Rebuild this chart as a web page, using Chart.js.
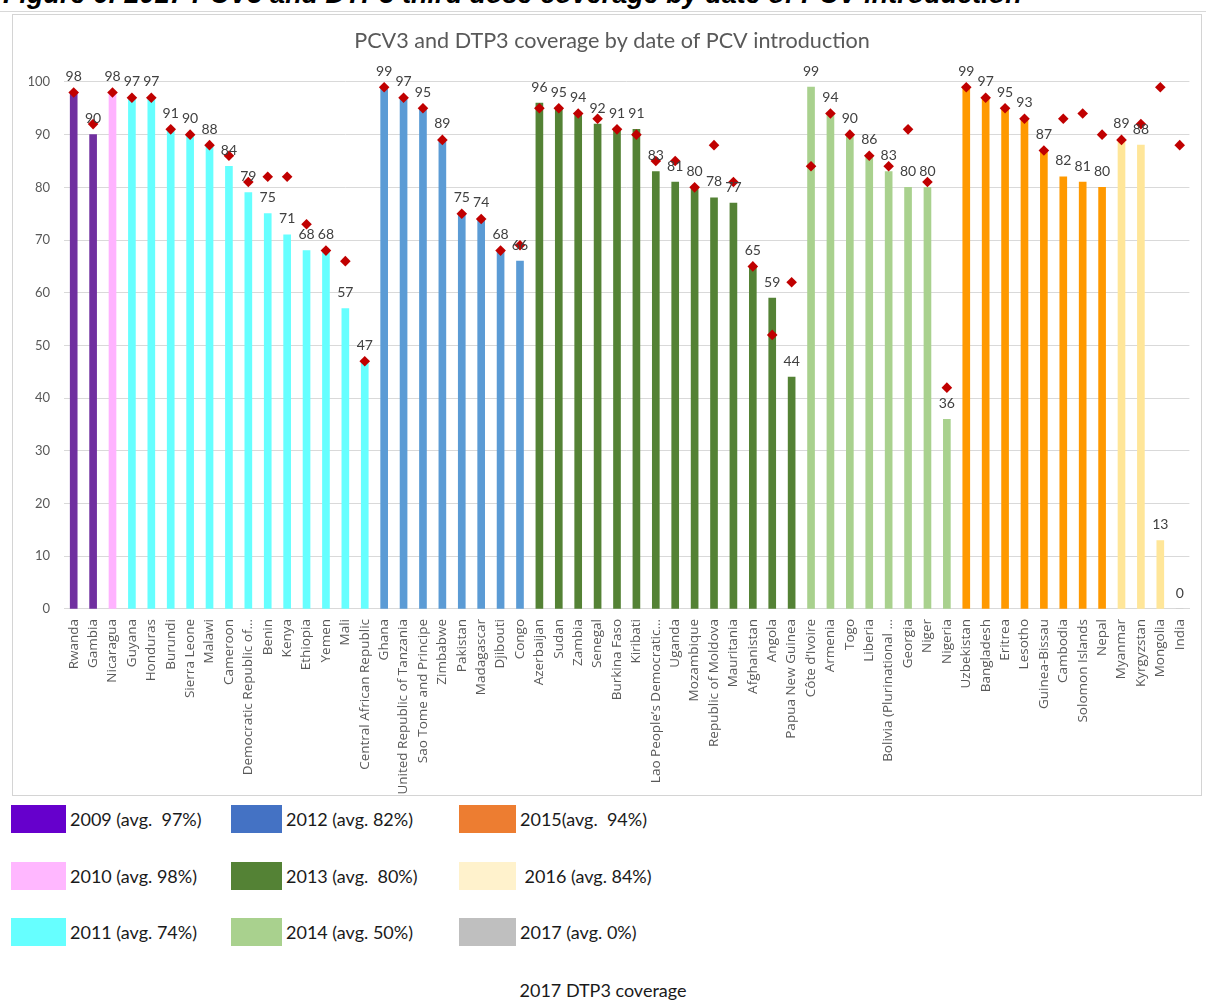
<!DOCTYPE html>
<html>
<head>
<meta charset="utf-8">
<script src="https://cdn.jsdelivr.net/npm/chart.js@4/dist/chart.umd.min.js"></script>
<style>
  html, body { margin: 0; padding: 0; background: #ffffff; }
  body { width: 1206px; height: 1001px; position: relative; overflow: hidden; }
  #heading {
    position: absolute; left: 3px; top: -19px; margin: 0;
    font: italic bold 27px "Liberation Sans", Arial, sans-serif;
    line-height: 27px; color: #000; white-space: nowrap;
  }
  #frame {
    position: absolute; left: 12px; top: 14px; width: 1190px; height: 782px;
    border: 1px solid #d4d4d4; box-sizing: border-box;
  }
  #ruler { position: absolute; left: 0; top: 11px; width: 1206px; height: 1px; background: #d8d8d8; }
  #wrap { position: absolute; left: 0; top: 0; width: 1206px; height: 800px; }
  .key { position: absolute; height: 28px; display: flex; align-items: center; }
  .key .sw { height: 28px; margin-right: 4px; flex: none; }
  .key .tx { font: 18px Lato, sans-serif; color: #1a1a1a; white-space: pre; }
  #caption {
    position: absolute; left: 0; width: 1206px; top: 979px; text-align: center;
    font: 18px Lato, sans-serif; color: #1a1a1a;
  }
</style>
</head>
<body>
<div id="heading">Figure 6: 2017 PCV3 and DTP3 third dose coverage by date of PCV introduction</div>
<div id="ruler"></div>
<div id="frame"></div>
<div id="wrap"><canvas id="chart" width="1206" height="800"></canvas></div>
<div id="legend"></div>
<div id="caption">2017 DTP3 coverage</div>

<script>
// Countries ordered by year of PCV introduction, then by PCV3 coverage
const countries = [
  'Rwanda', 'Gambia', 'Nicaragua', 'Guyana', 'Honduras', 'Burundi', 'Sierra Leone', 'Malawi',
  'Cameroon', 'Democratic Republic of…', 'Benin', 'Kenya', 'Ethiopia', 'Yemen', 'Mali',
  'Central African Republic', 'Ghana', 'United Republic of Tanzania', 'Sao Tome and Principe',
  'Zimbabwe', 'Pakistan', 'Madagascar', 'Djibouti', 'Congo', 'Azerbaijan', 'Sudan', 'Zambia',
  'Senegal', 'Burkina Faso', 'Kiribati', 'Lao People’s Democratic…', 'Uganda', 'Mozambique',
  'Republic of Moldova', 'Mauritania', 'Afghanistan', 'Angola', 'Papua New Guinea',
  'Côte d’Ivoire', 'Armenia', 'Togo', 'Liberia', 'Bolivia (Plurinational …', 'Georgia', 'Niger',
  'Nigeria', 'Uzbekistan', 'Bangladesh', 'Eritrea', 'Lesotho', 'Guinea-Bissau', 'Cambodia',
  'Solomon Islands', 'Nepal', 'Myanmar', 'Kyrgyzstan', 'Mongolia', 'India'
];

// Year each country introduced PCV
const introYear = [
  2009, 2009, 2010,
  2011, 2011, 2011, 2011, 2011, 2011, 2011, 2011, 2011, 2011, 2011, 2011, 2011,
  2012, 2012, 2012, 2012, 2012, 2012, 2012, 2012,
  2013, 2013, 2013, 2013, 2013, 2013, 2013, 2013, 2013, 2013, 2013, 2013, 2013, 2013,
  2014, 2014, 2014, 2014, 2014, 2014, 2014, 2014,
  2015, 2015, 2015, 2015, 2015, 2015, 2015, 2015,
  2016, 2016, 2016,
  2017
];

// 2017 PCV3 coverage (%)
const pcv3 = [
  98, 90, 98, 97, 97, 91, 90, 88, 84, 79, 75, 71, 68, 68, 57, 47,
  99, 97, 95, 89, 75, 74, 68, 66,
  96, 95, 94, 92, 91, 91, 83, 81, 80, 78, 77, 65, 59, 44,
  99, 94, 90, 86, 83, 80, 80, 36,
  99, 97, 95, 93, 87, 82, 81, 80,
  89, 88, 13,
  0
];

// 2017 DTP3 coverage (%)
const dtp3 = [
  98, 92, 98, 97, 97, 91, 90, 88, 86, 81, 82, 82, 73, 68, 66, 47,
  99, 97, 95, 89, 75, 74, 68, 69,
  95, 95, 94, 93, 91, 90, 85, 85, 80, 88, 81, 65, 52, 62,
  84, 94, 90, 86, 84, 91, 81, 42,
  99, 97, 95, 93, 87, 93, 94, 90,
  89, 92, 99,
  88
];

// Introduction cohorts for the key
const cohortYears = [2009, 2010, 2011, 2012, 2013, 2014, 2015, 2016, 2017];
const cohortLabels = [
  '2009 (avg.  97%)', '2010 (avg. 98%)', '2011 (avg. 74%)',
  '2012 (avg. 82%)', '2013 (avg.  80%)', '2014 (avg. 50%)',
  '2015(avg.  94%)', ' 2016 (avg. 84%)', '2017 (avg. 0%)'
];
const cohortBarColors = ['#7030a0', '#ffb3ff', '#66ffff', '#5b9bd5', '#548235', '#a9d18e', '#ff9900', '#ffe699', '#bfbfbf'];
const cohortKeyColors = ['#6600cc', '#ffb7ff', '#66ffff', '#4472c4', '#548235', '#a9d18e', '#ed7d31', '#fff2cc', '#bfbfbf'];

const barColors = introYear.map(y => cohortBarColors[cohortYears.indexOf(y)]);

// PCV3 value printed above each bar
const barValueLabels = {
  id: 'barValueLabels',
  afterDatasetsDraw(chart) {
    const meta = chart.getDatasetMeta(0);
    const ctx = chart.ctx;
    ctx.save();
    ctx.font = '14px Lato, sans-serif';
    ctx.fillStyle = '#404040';
    ctx.textAlign = 'center';
    ctx.textBaseline = 'middle';
    meta.data.forEach((bar, i) => {
      ctx.fillText(String(pcv3[i]), bar.x, bar.y - 16);
    });
    ctx.restore();
  }
};

new Chart(document.getElementById('chart'), {
  type: 'bar',
  data: {
    labels: countries,
    datasets: [
      {
        label: 'PCV3',
        data: pcv3,
        backgroundColor: barColors,
        borderWidth: 0,
        barThickness: 7,
        order: 2
      },
      {
        type: 'line',
        label: 'DTP3',
        data: dtp3,
        showLine: false,
        pointStyle: 'rectRot',
        pointRadius: 5.3,
        pointBackgroundColor: '#c00000',
        pointBorderColor: '#c00000',
        pointBorderWidth: 0,
        clip: false,
        order: 1
      }
    ]
  },
  options: {
    responsive: false,
    animation: false,
    devicePixelRatio: 1,
    layout: { padding: { left: 29, right: 11, top: 0, bottom: 0 } },
    plugins: {
      legend: { display: false },
      tooltip: { enabled: false },
      title: {
        display: true,
        text: 'PCV3 and DTP3 coverage by date of PCV introduction',
        color: '#595959',
        font: { family: 'Lato', size: 21.6, weight: 'normal' },
        padding: { top: 28, bottom: 28 },
        lineHeight: 1.2
      }
    },
    scales: {
      x: {
        grid: { display: false, drawTicks: false },
        border: { display: true, color: '#d9d9d9' },
        ticks: {
          autoSkip: false,
          minRotation: 90,
          maxRotation: 90,
          padding: 10,
          color: '#595959',
          font: { family: 'Open Sans', size: 13.5 }
        },
        afterFit(scale) { scale.height = 191; }
      },
      y: {
        min: 0,
        max: 100,
        grid: { color: '#d9d9d9', drawTicks: false },
        border: { display: false },
        ticks: {
          stepSize: 10,
          padding: 14,
          color: '#595959',
          font: { family: 'Lato', size: 13 }
        },
        afterFit(scale) { scale.width = 35; }
      }
    }
  },
  plugins: [barValueLabels]
});

// Key: three columns, cohorts read down each column
const legend = document.getElementById('legend');
const colLeft = [11, 231, 459];
const colSwatch = [55, 51, 57];
const rowTop = [805, 862, 918];
cohortYears.forEach((yr, i) => {
  const col = Math.floor(i / 3), row = i % 3;
  const item = document.createElement('div');
  item.className = 'key';
  item.style.left = colLeft[col] + 'px';
  item.style.top = rowTop[row] + 'px';
  const sw = document.createElement('div');
  sw.className = 'sw';
  sw.style.width = colSwatch[col] + 'px';
  sw.style.background = cohortKeyColors[i];
  const tx = document.createElement('span');
  tx.className = 'tx';
  tx.textContent = cohortLabels[i];
  item.appendChild(sw);
  item.appendChild(tx);
  legend.appendChild(item);
});
</script>
</body>
</html>
